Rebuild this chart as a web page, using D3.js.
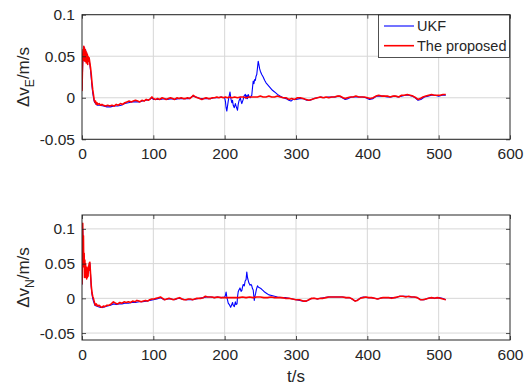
<!DOCTYPE html>
<html><head><meta charset="utf-8">
<script src="https://cdn.jsdelivr.net/npm/d3@7"></script>
<style>
html,body{margin:0;padding:0;background:#fff;}
svg text{font-family:"Liberation Sans",Arial,sans-serif;fill:#262626;}
</style></head><body>
<svg id="c" width="530" height="387"></svg>
<script>
// ---------------- data ----------------
const xTicks = [0,100,200,300,400,500,600];
const yTicksE = [-0.05,0,0.05,0.1];
const yTicksN = [-0.05,0,0.05,0.1];
const seriesNames = ["UKF","The proposed"];

// ΔvE, UKF : [t, value]
const ukfE = [[0,0.01],[1,0.04],[2,0.055],[3,0.061],[4,0.055],[5,0.058],[6,0.05],[7,0.053],[8,0.046],[9,0.048],[10,0.045],[11,0.04],[12,0.033],[13,0.024],[14,0.014],[15,0.006],[16,0.001],[17,-0.004],[18,-0.006],[20,-0.008],[22,-0.009],[25,-0.009],[30,-0.01],[35,-0.011],[40,-0.011],[45,-0.01],[50,-0.01],[55,-0.009],[60,-0.007],[65,-0.006],[70,-0.005],[75,-0.005],[80,-0.005],[85,-0.004],[90,-0.003],[95,-0.002],[98,0],[100,-0.002],[105,-0.002],[110,-0.002],[115,-0.001],[120,-0.002],[125,-0.001],[130,-0.002],[135,-0.001],[140,-0.001],[145,-0.001],[150,-0.001],[155,0.002],[160,0.001],[165,-0.001],[170,-0.001],[175,-0.001],[180,-0.001],[185,0],[190,0],[195,0.001],[200,0],[201,-0.004],[202,-0.012],[203,-0.016],[204,-0.01],[205,-0.004],[206.5,0.003],[207.5,0.007],[208.5,0],[210,-0.006],[211,-0.003],[212,-0.009],[213.5,-0.012],[215,-0.007],[216,-0.01],[218,-0.015],[219,-0.008],[220,-0.004],[222,0],[223,-0.004],[224,-0.007],[226,-0.002],[227,0.002],[229,0.004],[230,-0.001],[231,0.003],[232,-0.001],[233,0.004],[234.5,0.001],[236,0],[237,0.002],[238,0.003],[239,0.012],[240,0.02],[241,0.017],[242,0.022],[243,0.021],[244,0.026],[245,0.028],[246,0.036],[247,0.044],[248,0.04],[249,0.035],[250,0.032],[252,0.028],[254,0.025],[256,0.021],[258,0.018],[261,0.015],[264,0.012],[267,0.009],[270,0.007],[274,0.004],[278,0.002],[282,0],[286,-0.001],[290,-0.003],[293,-0.004],[296,-0.002],[300,-0.002],[305,-0.001],[310,-0.001],[315,-0.003],[320,-0.003],[325,-0.001],[330,0],[335,0.001],[340,0],[345,0.001],[350,0.001],[355,0.001],[360,0.002],[365,0],[369,-0.002],[373,-0.001],[378,0.001],[383,0.001],[388,0.001],[393,0.001],[398,0],[403,-0.002],[408,-0.001],[413,0.002],[418,0.002],[423,0.002],[428,0.001],[433,0.001],[438,0.002],[443,0.001],[448,0.002],[453,0.003],[458,0.003],[463,0.002],[467,0],[471,-0.003],[475,-0.002],[480,0.001],[485,0.002],[490,0.003],[495,0.003],[500,0.002],[505,0.003],[510,0.003]];

// ΔvE, proposed
const propE = [[0,0.008],[0.5,0.03],[1,0.05],[1.5,0.058],[2,0.045],[2.5,0.062],[3,0.05],[3.5,0.06],[4,0.044],[4.5,0.058],[5,0.048],[5.5,0.056],[6,0.042],[6.5,0.054],[7,0.046],[7.5,0.052],[8,0.04],[8.5,0.05],[9,0.044],[10,0.048],[11,0.042],[12,0.036],[13,0.028],[14,0.018],[15,0.01],[16,0.004],[17,-0.002],[18,-0.005],[19,-0.004],[20,-0.008],[21,-0.006],[22,-0.008],[24,-0.007],[26,-0.009],[28,-0.008],[30,-0.009],[33,-0.01],[36,-0.009],[39,-0.01],[42,-0.009],[45,-0.01],[48,-0.008],[51,-0.009],[54,-0.007],[57,-0.008],[60,-0.006],[63,-0.005],[66,-0.004],[69,-0.005],[72,-0.004],[75,-0.003],[78,-0.004],[81,-0.005],[84,-0.003],[87,-0.004],[90,-0.002],[93,-0.003],[96,-0.001],[98,0.001],[100,-0.001],[103,-0.002],[106,-0.001],[109,-0.002],[112,0],[115,-0.001],[118,-0.002],[121,-0.001],[124,0],[127,-0.001],[130,-0.002],[133,0],[136,-0.001],[139,0],[142,-0.001],[145,-0.001],[148,0],[151,-0.001],[154,0.001],[156,0.003],[159,0.001],[162,0],[165,-0.001],[168,-0.002],[171,-0.001],[174,0],[177,-0.001],[180,-0.001],[183,0],[186,0],[189,0.001],[192,0],[195,0.001],[198,0],[201,0.001],[204,0],[207,0.001],[210,0],[214,0.001],[218,0],[222,0.001],[226,0.001],[230,0],[234,0.001],[238,0.001],[242,0.001],[246,0.001],[250,0.002],[254,0.001],[258,0.001],[262,0.002],[266,0.001],[270,0.001],[274,0.002],[278,0.001],[282,0],[286,0],[290,-0.002],[294,-0.001],[298,-0.002],[302,0],[306,0],[310,-0.001],[314,-0.002],[318,-0.003],[322,-0.002],[326,-0.001],[330,0],[334,0.001],[338,0],[342,0.001],[346,0],[350,0.001],[354,0.001],[358,0.002],[362,0.002],[366,0],[369,-0.001],[372,0],[376,0.001],[380,0.001],[384,0.002],[388,0.001],[392,0.001],[396,0.001],[400,0],[404,-0.001],[408,0],[412,0.002],[416,0.003],[420,0.002],[424,0.002],[428,0.002],[432,0.001],[436,0.002],[440,0.002],[444,0.001],[448,0.003],[452,0.003],[456,0.004],[460,0.003],[464,0.002],[468,0],[471,-0.002],[474,-0.001],[478,0.001],[482,0.002],[486,0.003],[490,0.004],[494,0.003],[498,0.003],[502,0.003],[506,0.004],[510,0.004]];

// ΔvN, UKF
const ukfN = [[0,0.02],[1,0.1],[2,0.06],[3,0.05],[4,0.04],[5,0.045],[6,0.035],[7,0.04],[8,0.038],[9,0.042],[10,0.048],[11,0.05],[12,0.034],[13,0.016],[14,0.006],[15,0],[16,-0.004],[17,-0.007],[18,-0.01],[20,-0.011],[23,-0.012],[26,-0.013],[29,-0.013],[32,-0.012],[36,-0.011],[40,-0.01],[44,-0.008],[48,-0.009],[52,-0.008],[56,-0.008],[60,-0.007],[65,-0.007],[70,-0.006],[75,-0.006],[80,-0.005],[85,-0.005],[90,-0.004],[95,-0.003],[100,-0.002],[105,-0.001],[110,0.001],[115,-0.002],[120,-0.001],[125,-0.001],[130,-0.002],[135,0],[140,-0.001],[145,-0.002],[150,-0.002],[155,-0.002],[160,-0.001],[165,0],[170,0.001],[175,0.002],[180,0.002],[185,0.001],[190,0.002],[195,0.001],[200,0.002],[201,0.004],[202,0.009],[203,0.002],[205,-0.007],[206.5,-0.009],[208.4,-0.013],[210,-0.009],[211,-0.006],[212,-0.01],[213.5,-0.012],[215,-0.005],[216,-0.009],[217.3,-0.008],[218,0.002],[219,0.0095],[220,0.012],[221.5,0.015],[223,0.01],[224,0.011],[225,0.016],[226,0.02],[227.5,0.018],[228.7,0.025],[230,0.027],[231,0.038],[232,0.03],[233,0.026],[234,0.022],[235.6,0.019],[237,0.02],[238,0.018],[239,0.014],[240,0.012],[241.5,-0.003],[242.5,0.003],[243.4,0.007],[244.5,0.013],[246,0.018],[247.5,0.016],[249.5,0.015],[252,0.013],[254,0.011],[256,0.009],[259,0.007],[262,0.005],[266,0.004],[270,0.003],[274,0.002],[280,0.001],[285,0.001],[290,0],[295,-0.001],[300,-0.002],[305,-0.003],[310,-0.004],[315,-0.004],[320,-0.001],[325,0],[330,-0.001],[335,0],[340,0.001],[345,0.002],[350,0.002],[355,0.002],[360,0.002],[365,0.002],[370,0.001],[375,0.001],[380,-0.002],[383,-0.004],[387,-0.002],[391,0.001],[395,0.002],[400,0.001],[405,0.001],[410,0],[415,-0.001],[420,0.001],[425,0.001],[430,0.001],[435,0.001],[440,0.001],[445,0.003],[450,0.003],[455,0.003],[460,0.002],[465,0.002],[470,0.001],[475,-0.002],[480,-0.002],[485,0],[490,0.001],[495,0],[500,0.001],[505,0],[510,-0.002]];

// ΔvN, proposed
const propN = [[0,0.02],[0.5,0.06],[1,0.108],[1.5,0.07],[2,0.09],[2.5,0.045],[3,0.065],[3.5,0.03],[4,0.055],[4.5,0.035],[5,0.05],[5.5,0.03],[6,0.045],[6.5,0.028],[7,0.04],[7.5,0.03],[8,0.044],[8.5,0.032],[9,0.046],[9.5,0.04],[10,0.05],[11,0.052],[12,0.035],[13,0.018],[14,0.008],[15,0.003],[16,0],[17,-0.004],[18,-0.008],[19,-0.01],[20,-0.008],[22,-0.011],[24,-0.01],[26,-0.012],[28,-0.013],[30,-0.011],[32,-0.012],[35,-0.01],[38,-0.01],[41,-0.008],[44,-0.005],[47,-0.007],[50,-0.008],[53,-0.006],[56,-0.007],[59,-0.005],[62,-0.006],[65,-0.005],[68,-0.006],[71,-0.004],[74,-0.005],[77,-0.003],[80,-0.004],[83,-0.005],[86,-0.004],[89,-0.003],[92,-0.004],[95,-0.002],[98,-0.001],[101,-0.001],[104,0],[107,0.001],[110,0.002],[113,0],[116,-0.002],[119,-0.001],[122,0],[125,-0.001],[128,-0.002],[131,-0.001],[134,0],[137,0.001],[140,-0.001],[143,-0.002],[146,-0.002],[149,-0.001],[152,-0.001],[155,-0.002],[158,-0.001],[161,0],[164,0],[167,0],[170,0.001],[173,0.003],[176,0.002],[179,0.002],[182,0.002],[186,0.001],[190,0.002],[195,0.001],[200,0.001],[205,0.001],[210,0.001],[215,0.001],[220,0.001],[225,0.002],[230,0.001],[235,0.002],[240,0.001],[245,0.002],[250,0.002],[255,0.001],[260,0.001],[265,0.002],[270,0.001],[275,0.001],[280,0.001],[285,0],[290,0],[295,-0.001],[300,-0.002],[305,-0.002],[310,-0.004],[314,-0.004],[318,-0.002],[322,0],[326,0],[330,-0.001],[334,0],[338,0],[342,0.001],[346,0.002],[350,0.002],[355,0.002],[360,0.002],[365,0.002],[370,0.001],[375,0.001],[379,-0.001],[383,-0.004],[386,-0.003],[390,0],[394,0.001],[398,0.002],[402,0.001],[406,0.001],[410,0],[414,-0.001],[418,0],[422,0.001],[426,0.001],[430,0.001],[434,0],[438,0.001],[442,0.002],[446,0.003],[450,0.003],[454,0.002],[458,0.003],[462,0.002],[466,0.002],[470,0.001],[474,-0.002],[478,-0.002],[482,-0.001],[486,0],[490,0.001],[494,0],[498,0.001],[502,0],[506,-0.001],[510,-0.002]];

// ---------------- drawing ----------------
const svg = d3.select("#c");
svg.append("rect").attr("width",530).attr("height",387).attr("fill","#fff");
const axColor = "#262626";
const colors = {ukf:"#0000ff", prop:"#ff0000"};

const panels = [
  {top:14.7, bottom:139.3, domain:[-0.05,0.1], ticks:yTicksE, ukf:ukfE, prop:propE, sub:"E", legend:true},
  {top:215, bottom:340, domain:[-0.06,0.12], ticks:yTicksN, ukf:ukfN, prop:propN, sub:"N", legend:false}
];
const left = 82, right = 510;
const x = d3.scaleLinear().domain([0,600]).range([left,right]);

panels.forEach((p,i)=>{
  const y = d3.scaleLinear().domain(p.domain).range([p.bottom,p.top]);
  const g = svg.append("g");
  g.append("rect").attr("x",left).attr("y",p.top).attr("width",right-left).attr("height",p.bottom-p.top).attr("fill","#fff");
  // grid
  g.selectAll(".gx").data(xTicks.slice(1,-1)).join("line")
    .attr("x1",d=>x(d)).attr("x2",d=>x(d)).attr("y1",p.top).attr("y2",p.bottom)
    .attr("stroke","#d7d7d7").attr("stroke-width",1);
  g.selectAll(".gy").data(p.ticks).join("line")
    .attr("x1",left).attr("x2",right).attr("y1",d=>y(d)).attr("y2",d=>y(d))
    .attr("stroke","#d7d7d7").attr("stroke-width",1);
  // lines
  const line = d3.line().x(d=>x(d[0])).y(d=>y(d[1]));
  const clipId = "clip"+i;
  svg.append("clipPath").attr("id",clipId).append("rect")
    .attr("x",left).attr("y",p.top).attr("width",right-left).attr("height",p.bottom-p.top);
  const lg = g.append("g").attr("clip-path",`url(#${clipId})`);
  lg.append("path").datum(p.ukf).attr("d",line).attr("fill","none").attr("stroke",colors.ukf).attr("stroke-width",1.1).attr("stroke-linejoin","round");
  lg.append("path").datum(p.prop).attr("d",line).attr("fill","none").attr("stroke",colors.prop).attr("stroke-width",1.6).attr("stroke-linejoin","round");
  // axes
  const ax = g.append("g").attr("transform",`translate(0,${p.bottom})`)
    .call(d3.axisBottom(x).tickValues(xTicks).tickFormat(d3.format("d")).tickSizeInner(-4).tickSizeOuter(0).tickPadding(9));
  const axT = g.append("g").attr("transform",`translate(0,${p.top})`)
    .call(d3.axisTop(x).tickValues(xTicks).tickFormat("").tickSizeInner(-4).tickSizeOuter(0));
  const ay = g.append("g").attr("transform",`translate(${left},0)`)
    .call(d3.axisLeft(y).tickValues(p.ticks).tickFormat(d=>d===0?"0":String(d)).tickSizeInner(-4).tickSizeOuter(0).tickPadding(7));
  const ayR = g.append("g").attr("transform",`translate(${right},0)`)
    .call(d3.axisRight(y).tickValues(p.ticks).tickFormat("").tickSizeInner(-4).tickSizeOuter(0));
  [ax,axT,ay,ayR].forEach(a=>{
    a.select(".domain").remove();
    a.selectAll("line").attr("stroke",axColor).attr("stroke-width",0.8);
    a.selectAll("text").attr("fill",axColor).style("font-size","15.5px").style("font-family","'Liberation Sans',Arial,sans-serif");
  });
  g.append("rect").attr("x",left).attr("y",p.top).attr("width",right-left).attr("height",p.bottom-p.top)
    .attr("fill","none").attr("stroke",axColor).attr("stroke-width",1);
  // y label
  const cy = (p.top+p.bottom)/2;
  const t = g.append("text").attr("transform",`translate(29,${cy}) rotate(-90)`)
    .attr("text-anchor","middle").style("font-size","17px");
  t.append("tspan").text("Δv");
  t.append("tspan").attr("dy",5).style("font-size","12px").text(p.sub);
  t.append("tspan").attr("dy",-5).text("/m/s");

  if(p.legend){
    const L = svg.append("g");
    L.append("rect").attr("x",378.5).attr("y",15).attr("width",131).attr("height",42.5)
      .attr("fill","#fff").attr("stroke",axColor).attr("stroke-width",0.8);
    const items = [{name:seriesNames[0],c:colors.ukf,w:1.1,y:26},{name:seriesNames[1],c:colors.prop,w:1.6,y:45.7}];
    items.forEach(it=>{
      L.append("line").attr("x1",384).attr("x2",414).attr("y1",it.y).attr("y2",it.y).attr("stroke",it.c).attr("stroke-width",it.w);
      L.append("text").attr("x",417).attr("y",it.y+5).style("font-size","14.5px").text(it.name);
    });
  }
});
svg.append("text").attr("x",x(300)).attr("y",382).attr("text-anchor","middle").style("font-size","17px").text("t/s");
</script>
</body></html>
